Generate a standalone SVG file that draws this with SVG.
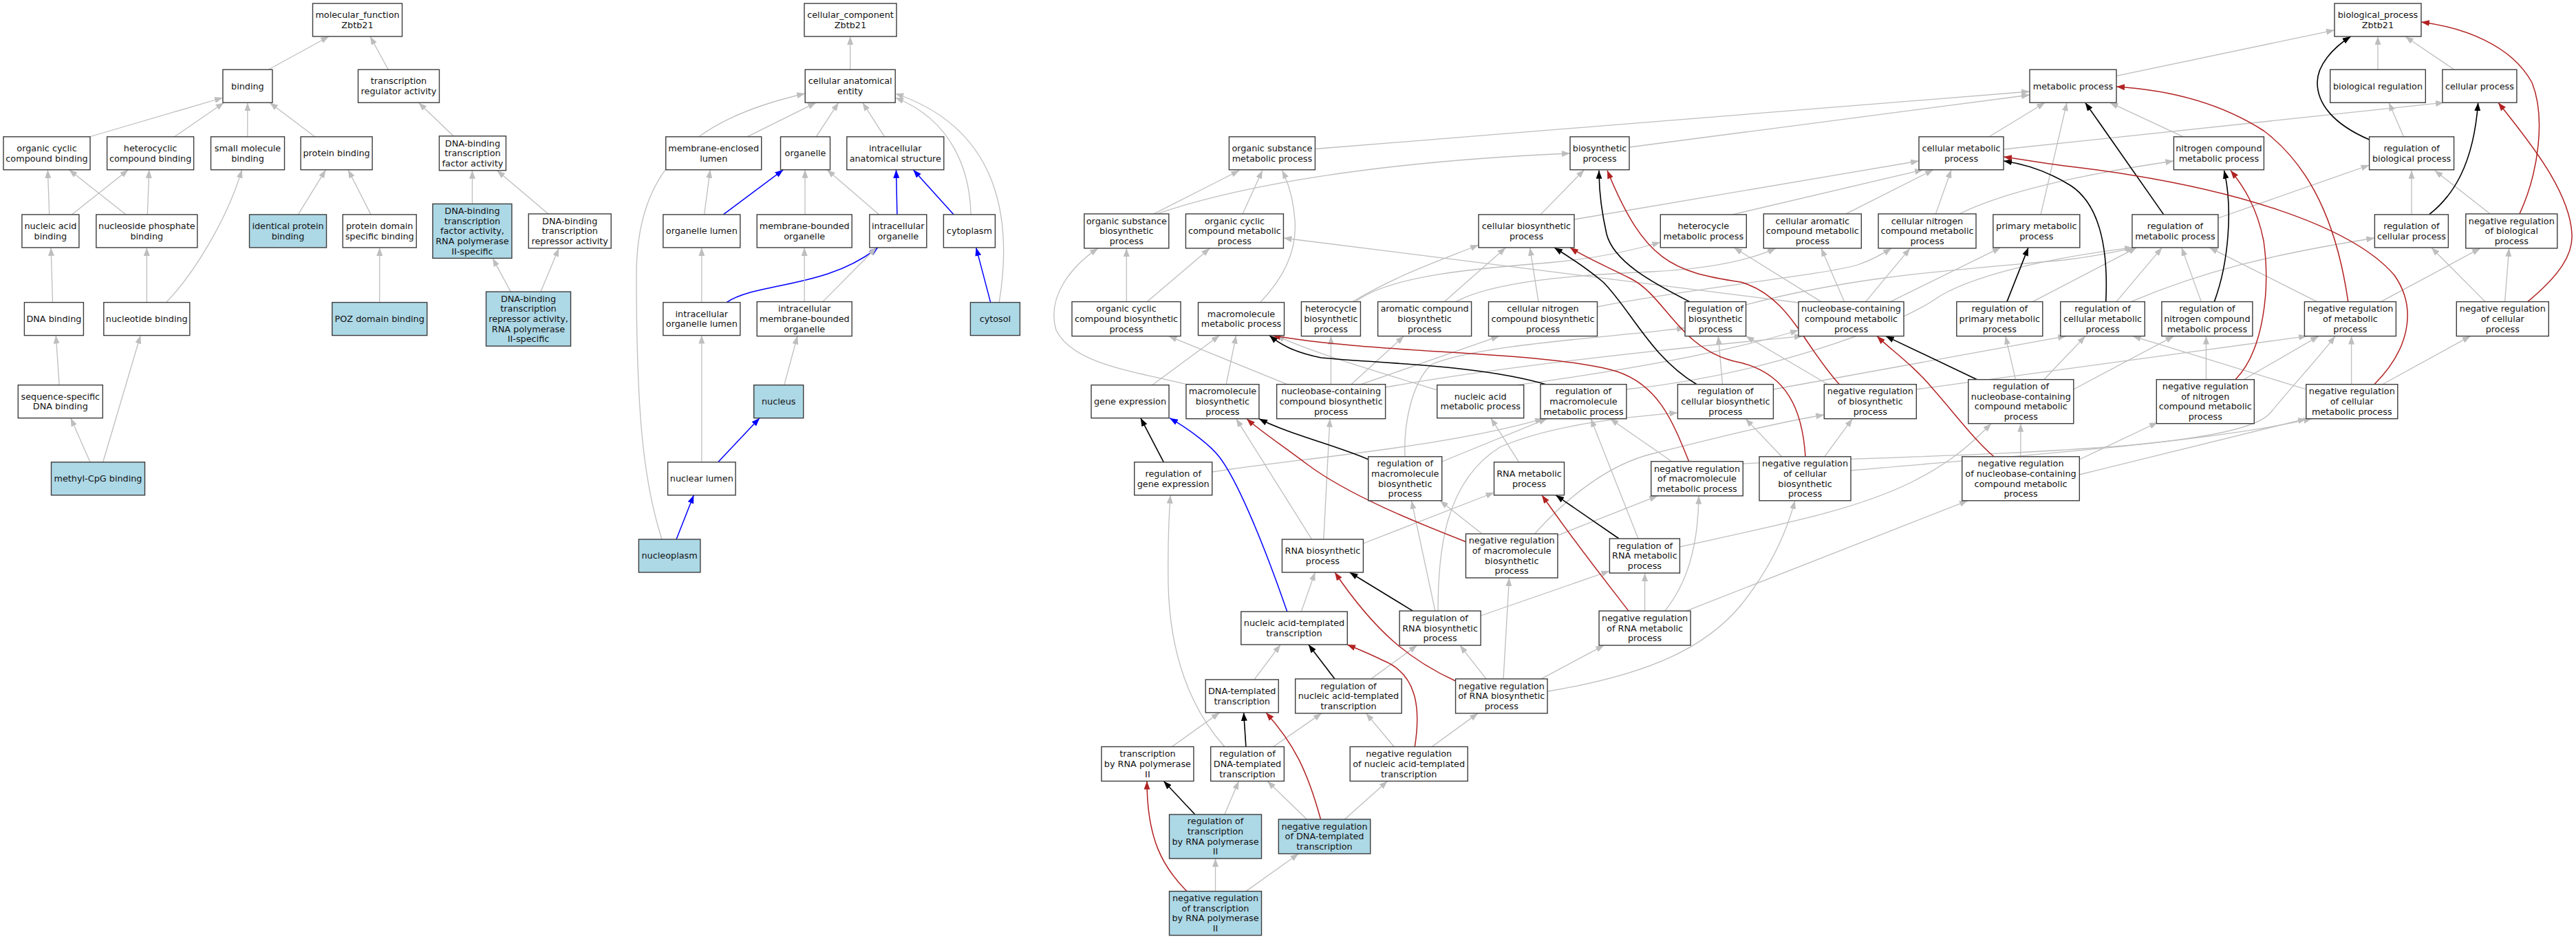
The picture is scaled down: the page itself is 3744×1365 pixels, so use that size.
<svg xmlns="http://www.w3.org/2000/svg" width="3744" height="1365" viewBox="0 0 3744 1365">
<defs>
<style>
.n rect{fill:#ffffff;stroke:#3c3c3c;stroke-width:1.4}
.h rect{fill:#add8e6}
.t{font-family:'DejaVu Sans','Liberation Sans',sans-serif;font-size:12.8px;text-anchor:middle;fill:#111111}
.g{fill:none;stroke:#bebebe;stroke-width:1.3;marker-end:url(#ag)}
.k{fill:none;stroke:#000000;stroke-width:1.6;marker-end:url(#ak)}
.r{fill:none;stroke:#b22222;stroke-width:1.5;marker-end:url(#ar)}
.b{fill:none;stroke:#0000ff;stroke-width:1.5;marker-end:url(#ab)}
</style>
<marker id="ag" markerUnits="userSpaceOnUse" markerWidth="12" markerHeight="9" viewBox="0 0 12 9" refX="12" refY="4.5" orient="auto"><path d="M0,0 L12,4.5 L0,9 z" fill="#bebebe"/></marker>
<marker id="ak" markerUnits="userSpaceOnUse" markerWidth="12" markerHeight="9" viewBox="0 0 12 9" refX="12" refY="4.5" orient="auto"><path d="M0,0 L12,4.5 L0,9 z" fill="#000000"/></marker>
<marker id="ar" markerUnits="userSpaceOnUse" markerWidth="12" markerHeight="9" viewBox="0 0 12 9" refX="12" refY="4.5" orient="auto"><path d="M0,0 L12,4.5 L0,9 z" fill="#b22222"/></marker>
<marker id="ab" markerUnits="userSpaceOnUse" markerWidth="12" markerHeight="9" viewBox="0 0 12 9" refX="12" refY="4.5" orient="auto"><path d="M0,0 L12,4.5 L0,9 z" fill="#0000ff"/></marker>
</defs>
<rect x="0" y="0" width="3744" height="1365" fill="#ffffff"/>
<g id="edges">
<!-- molecular function -->
<path class="g" d="M390,101.2 L478,53"/>
<path class="g" d="M564.4,101.2 L538,53"/>
<path class="g" d="M128,199.5 L323.9,142"/>
<path class="g" d="M253.5,198.8 L325.5,149.2"/>
<path class="g" d="M359.8,198.8 L359.8,149.2"/>
<path class="g" d="M457.7,198.8 L392,149.2"/>
<path class="g" d="M659.1,197.8 L608.4,149.2"/>
<path class="g" d="M71.7,311.9 L69.4,246.8"/>
<path class="g" d="M104.3,311.9 L186.5,246.8"/>
<path class="g" d="M183.2,311.9 L100.4,246.8"/>
<path class="g" d="M214.3,311.9 L216.7,246.8"/>
<path class="g" d="M433.3,311.9 L473.5,246.8"/>
<path class="g" d="M539,311.9 L506,246.8"/>
<path class="g" d="M686.4,296.4 L686.4,247.8"/>
<path class="g" d="M796.9,310.9 L722.3,247.8"/>
<path class="g" d="M742.3,424.1 L716,375.4"/>
<path class="g" d="M785.9,424.1 L812.2,360.9"/>
<path class="g" d="M241.5,439.6 C280,400 330,320 351.6,246.8"/>
<path class="g" d="M76.5,439.6 L74.1,359.9"/>
<path class="g" d="M213.3,439.6 L213.3,359.9"/>
<path class="g" d="M551.7,439.6 L551.7,359.9"/>
<path class="g" d="M86.1,559.7 L81.3,487.6"/>
<path class="g" d="M131,671.8 L102.8,607.7"/>
<path class="g" d="M149.7,671.8 L204.2,487.6"/>
<!-- cellular component -->
<path class="g" d="M1235.7,101.2 L1235.7,53"/>
<path class="g" d="M1085.8,198.8 L1186.2,149.2"/>
<path class="g" d="M1186.2,198.8 L1218.7,149.2"/>
<path class="g" d="M1285.7,198.8 L1253.7,149.2"/>
<path class="g" d="M1411,311.9 C1410,250 1385,175 1301.2,142"/>
<path class="g" d="M1452.2,439.6 C1470,330 1460,190 1301.2,136"/>
<path class="g" d="M962,784 C935,700 925,600 925,400 C925,250 1000,175 1170.2,136"/>
<path class="g" d="M1023.6,311.9 L1032.2,246.8"/>
<path class="b" d="M1051.3,311.9 L1138.4,246.8"/>
<path class="g" d="M1170,311.9 L1170,246.8"/>
<path class="g" d="M1277.6,311.9 L1202,246.8"/>
<path class="b" d="M1303.9,311.9 L1302.5,246.8"/>
<path class="b" d="M1386.2,311.9 L1327.3,246.8"/>
<path class="g" d="M1019.8,439.6 L1019.8,359.9"/>
<path class="b" d="M1056,439.6 C1100,410 1200,420 1276,359.9"/>
<path class="g" d="M1169.2,438.6 L1169.2,359.9"/>
<path class="g" d="M1195.8,438.6 L1273.8,359.9"/>
<path class="b" d="M1439.7,439.6 L1418.7,359.9"/>
<path class="g" d="M1139.8,559.7 L1159,488.6"/>
<path class="g" d="M1019.8,671.8 L1019.8,487.6"/>
<path class="b" d="M1043.7,671.8 L1104,607.7"/>
<path class="b" d="M983,784 L1008.3,719.8"/>
<!-- biological process: gray -->
<path class="g" d="M3456,101.2 L3456,53"/>
<path class="g" d="M3567,101.2 L3495.8,53"/>
<path class="g" d="M3075.9,110.3 L3393,43.8"/>
<path class="g" d="M3493.5,198.8 L3472.1,149.2"/>
<path class="g" d="M3505,311.9 L3505,247.8"/>
<path class="g" d="M3619.2,310.9 L3538.6,247.8"/>
<path class="g" d="M3612.1,438.6 L3533.8,359.9"/>
<path class="g" d="M3640.6,438.6 L3646.7,360.9"/>
<path class="g" d="M3460.3,438.6 L3605,360.9"/>
<path class="g" d="M3367.7,438.6 L3211.2,359.9"/>
<path class="g" d="M3173.2,198.8 L3066.4,149.2"/>
<path class="g" d="M3224,317 L3443.6,240"/>
<path class="g" d="M3199.3,438.6 L3170.8,359.9"/>
<path class="g" d="M3075.9,438.6 L3142.3,359.9"/>
<path class="g" d="M3097.3,438.6 C3200,395 3300,370 3451.4,346"/>
<path class="g" d="M3417.6,558.7 L3417.6,488.6"/>
<path class="g" d="M3351.8,566 L3099.6,488.6"/>
<path class="g" d="M3462.6,558.7 L3590.7,488.6"/>
<path class="g" d="M3206.4,551.7 L3206.4,488.6"/>
<path class="g" d="M3261,551.7 L3370.1,488.6"/>
<path class="g" d="M2954.2,438.6 L3105.6,359.9"/>
<path class="g" d="M2970.8,551.7 L3030.9,488.6"/>
<path class="g" d="M2929.4,551.7 L2914.8,488.6"/>
<path class="g" d="M3013.8,566 L3159.5,488.6"/>
<path class="g" d="M2936.8,663.8 L2936.8,615.7"/>
<path class="g" d="M3022.3,668 L3136,614"/>
<path class="g" d="M3022.3,690 L3352,608.7"/>
<path class="g" d="M2690,684 C2900,665 3200,645 3360,608.7"/>
<path class="g" d="M2533.2,674 C2800,660 3250,660 3300,600 C3330,563 3370,520 3394,488.6"/>
<path class="g" d="M2785.2,566 L3353,488.6"/>
<path class="g" d="M2363.8,566 C2550,547 2750,480 2820,430 C2880,395 3000,372 3100,359.9"/>
<path class="g" d="M2537.5,443 C2700,400 2850,392 3000,378 C3050,372 3080,365 3102,359.9"/>
<path class="g" d="M2577.3,566 L3003,488.6"/>
<path class="g" d="M1761.6,686 C1900,665 2100,650 2243,608.7"/>
<path class="g" d="M2095.9,671 L2248.5,608.7"/>
<path class="g" d="M2042,663.8 C2040,620 2050,560 2080,530 C2150,500 2350,490 2449,476.7"/>
<path class="g" d="M1674.6,559.7 L1772.6,487.6"/>
<path class="g" d="M1782.2,558.7 L1796.6,487.6"/>
<path class="g" d="M1724.8,558.7 C1650,540 1560,530 1535,480 C1520,430 1560,385 1596,360.9"/>
<path class="g" d="M2088.8,567 C2000,540 1900,510 1855,487.6"/>
<path class="g" d="M2205,559.7 C2350,540 2500,515 2614,480"/>
<path class="g" d="M2013.7,563 C2200,530 2450,505 2620,488.6"/>
<path class="g" d="M1870.7,558.7 L1698.5,488.6"/>
<path class="g" d="M1934.4,558.7 L1934.4,488.6"/>
<path class="g" d="M1964,558.7 L2040.5,488.6"/>
<path class="g" d="M1978.3,558.7 L2179.2,488.6"/>
<path class="g" d="M1637.3,438.6 L1637.3,360.9"/>
<path class="g" d="M1667.4,438.6 L1758.3,360.9"/>
<path class="g" d="M1677,310.9 L1801.3,247.8"/>
<path class="g" d="M1681.8,310.9 C1800,270 2000,235 2282,223"/>
<path class="g" d="M1806.1,310.9 L1834.8,247.8"/>
<path class="g" d="M1831.5,439.6 C1870,400 1885,360 1882,320 C1880,290 1872,265 1863.5,247.8"/>
<path class="g" d="M1911.3,216.5 L2950,133"/>
<path class="g" d="M2368,214 L2950,138"/>
<path class="g" d="M2891,198.8 L2972.2,149.2"/>
<path class="g" d="M2966,311.9 L3004,149.2"/>
<path class="g" d="M2912,217 L3552,149.2"/>
<path class="g" d="M2239,311.9 L2302.6,246.8"/>
<path class="g" d="M2287.8,319 L2789,234"/>
<path class="g" d="M2517.9,311.9 L2795,246.8"/>
<path class="g" d="M2682.9,310.9 L2810,246.8"/>
<path class="g" d="M2813.4,310.9 L2836,246.8"/>
<path class="g" d="M2848,310.9 C2920,275 3050,250 3159.4,234"/>
<path class="g" d="M2647,438.6 L2520.2,359.9"/>
<path class="g" d="M2680.5,438.6 L2647,360.9"/>
<path class="g" d="M2711.6,438.6 L2776.1,360.9"/>
<path class="g" d="M2747.4,438.6 L2907.7,359.9"/>
<path class="g" d="M2614,440 L1865.4,346"/>
<path class="g" d="M1966,438.6 C2030,400 2090,380 2149,356"/>
<path class="g" d="M1970,438.6 C2020,400 2150,390 2250,382 C2330,375 2380,362 2413.3,352"/>
<path class="g" d="M2099.3,438.6 L2188.4,359.9"/>
<path class="g" d="M2115.8,438.6 C2170,410 2280,400 2400,395 C2500,390 2550,375 2581,360.9"/>
<path class="g" d="M2236,438.6 L2223.6,359.9"/>
<path class="g" d="M2321.5,446 C2450,420 2650,400 2700,385 C2720,378 2735,370 2749,360.9"/>
<path class="g" d="M1891.3,889.1 L1911.3,832"/>
<path class="g" d="M1906.6,784 L1796.6,608.7"/>
<path class="g" d="M1923.8,784 L1932.9,608.7"/>
<path class="g" d="M1981.4,790 L2171.5,716"/>
<path class="g" d="M2207.7,671.8 L2166.8,607.7"/>
<path class="g" d="M2381,783 L2312.2,608.7"/>
<path class="g" d="M2441.3,795 C2600,760 2700,740 2780,700 C2840,670 2870,640 2894,615.7"/>
<path class="g" d="M2152.2,895 L2339.4,830"/>
<path class="g" d="M2085.9,888.1 L2051.5,727.8"/>
<path class="g" d="M2090,888.1 C2090,800 2100,700 2180,650 C2260,615 2380,605 2438.4,600"/>
<path class="g" d="M1992.7,986.9 L2059.6,938.1"/>
<path class="g" d="M2026.1,1085.5 L1985.5,1036.9"/>
<path class="g" d="M2081.2,1085.5 L2148.1,1036.9"/>
<path class="g" d="M1822.9,987.9 L1861.1,937.1"/>
<path class="g" d="M1850.6,1085.5 L1920.9,1036.9"/>
<path class="g" d="M1779.8,1085.5 C1730,1030 1700,950 1698,850 C1697,790 1699,750 1701,719.8"/>
<path class="g" d="M1703.3,1085.5 L1772.6,1035.9"/>
<path class="g" d="M1779.8,1184 L1800.4,1135.5"/>
<path class="g" d="M1899.4,1191 L1842,1135.5"/>
<path class="g" d="M1954.4,1191 L2016.6,1135.5"/>
<path class="g" d="M1766.5,1295.6 L1766.5,1248"/>
<path class="g" d="M1810.9,1295.6 L1887.4,1241"/>
<path class="g" d="M2160,986.9 L2121.8,938.1"/>
<path class="g" d="M2185,986.9 L2193.5,840"/>
<path class="g" d="M2240,986.9 L2331.3,938.1"/>
<path class="g" d="M2249.3,1005 C2400,980 2480,940 2530,880 C2570,830 2595,780 2608.7,727.8"/>
<path class="g" d="M2390.6,888.1 L2390.6,833"/>
<path class="g" d="M2419.8,888.1 C2450,850 2468,800 2469,720.8"/>
<path class="g" d="M2450.9,888.1 L2860,727.8"/>
<path class="g" d="M2154,776 L2092.9,727.8"/>
<path class="g" d="M2263.8,778.3 L2409.2,720.8"/>
<path class="g" d="M2230.6,776 C2280,720 2340,675 2400,660 C2500,635 2580,615 2651.3,603"/>
<path class="g" d="M2429.6,670.8 L2340.3,608.7"/>
<path class="g" d="M2651.8,663.8 L2692.4,608.7"/>
<path class="g" d="M2589.6,663.8 L2537,608.7"/>
<path class="g" d="M2656.6,558.7 L2537.5,488.6"/>
<path class="g" d="M2503.5,558.7 L2497.3,488.6"/>
<!-- biological process: regulates (black) -->
<path class="k" d="M3443.6,203 C3390,180 3368,150 3368,120 C3368,95 3390,70 3416.6,53"/>
<path class="k" d="M3530.5,311.9 C3565,285 3595,240 3601.7,149.2"/>
<path class="k" d="M3144.7,311.9 L3030.8,149.2"/>
<path class="k" d="M3218.3,438.6 C3240,380 3245,300 3232.5,247.8"/>
<path class="k" d="M3060.7,438.6 C3064,370 3055,300 3010,270 C2975,248 2940,238 2912,234"/>
<path class="k" d="M2916.9,438.6 L2948,359.9"/>
<path class="k" d="M2873.4,551.7 L2740.7,488.6"/>
<path class="k" d="M2455.7,438.6 C2400,410 2345,380 2335,340 C2326,300 2324,270 2324,247.8"/>
<path class="k" d="M2466,558.7 C2400,520 2370,450 2330,410 C2300,385 2275,370 2259,359.9"/>
<path class="k" d="M2248.5,559.3 C2150,530 2000,528 1920,520 C1880,512 1860,500 1845,487.6"/>
<path class="k" d="M1989,668 C1950,650 1870,630 1830,608.7"/>
<path class="k" d="M1691.3,671.8 L1657.8,607.7"/>
<path class="k" d="M2353,783 L2261.2,719.8"/>
<path class="k" d="M2053.4,888.1 L1961.6,832"/>
<path class="k" d="M1940,986.9 L1901.8,937.1"/>
<path class="k" d="M1810.9,1085.5 L1807.6,1035.9"/>
<path class="k" d="M1736.8,1184 L1691.3,1135.5"/>
<!-- biological process: negatively regulates (red) -->
<path class="r" d="M3662,310.9 C3690,250 3700,170 3680,120 C3650,65 3580,40 3519,32"/>
<path class="r" d="M3673.8,438.6 C3720,400 3740,370 3738,340 C3735,280 3680,210 3631,149.2"/>
<path class="r" d="M3412.8,438.6 C3400,350 3370,250 3290,190 C3220,145 3140,130 3076,126"/>
<path class="r" d="M3249,551.7 C3290,510 3300,420 3290,350 C3280,300 3260,270 3242,247.8"/>
<path class="r" d="M3450.8,558.7 C3500,510 3515,450 3480,400 C3420,330 3250,270 3000,241 C2960,236 2935,231 2912,228"/>
<path class="r" d="M2898,663.8 C2870,640 2840,600 2810,566 C2780,530 2750,510 2728,488.6"/>
<path class="r" d="M2673.3,558.7 C2620,500 2600,430 2530,410 C2430,395 2390,380 2336,247.8"/>
<path class="r" d="M2624,663.8 C2620,600 2600,540 2520,525 C2440,505 2420,430 2370,405 C2330,385 2300,372 2282,359.9"/>
<path class="r" d="M2454.7,670.8 C2430,610 2410,560 2350,540 C2250,510 2000,515 1849,487.6"/>
<path class="r" d="M2131,787.7 C2060,760 1960,720 1900,675 C1860,645 1830,625 1812,608.7"/>
<path class="r" d="M2367,888.1 C2330,840 2290,790 2241,719.8"/>
<path class="r" d="M2115.6,990 C2050,960 2000,920 1940,832"/>
<path class="r" d="M2056.3,1085.5 C2065,1030 2060,980 2010,960 C1990,950 1975,944 1958,937.1"/>
<path class="r" d="M1919.5,1191 C1900,1120 1880,1080 1840,1035.9"/>
<path class="r" d="M1724.8,1295.6 C1690,1260 1667,1220 1667,1135.5"/>
<!-- part_of (blue) -->
<path class="b" d="M1870.7,889.1 C1840,800 1800,700 1772,664 C1760,648 1730,625 1700,607.7"/>
</g>
<!-- molecular function nodes -->
<g id="mf_root" class="n"><rect x="454.5" y="5" width="130" height="48"/><text class="t"><tspan x="519.5" y="26.05">molecular_function</tspan><tspan x="519.5" y="40.75">Zbtb21</tspan></text></g>
<g id="mf_binding" class="n"><rect x="323.9" y="101.2" width="72" height="48"/><text class="t"><tspan x="359.9" y="129.6">binding</tspan></text></g>
<g id="mf_tra" class="n"><rect x="520.5" y="101.2" width="118" height="48"/><text class="t"><tspan x="579.5" y="122.25">transcription</tspan><tspan x="579.5" y="136.95">regulator activity</tspan></text></g>
<g id="mf_occb" class="n"><rect x="5" y="198.8" width="126" height="48"/><text class="t"><tspan x="68" y="219.85">organic cyclic</tspan><tspan x="68" y="234.55">compound binding</tspan></text></g>
<g id="mf_hcb" class="n"><rect x="155.6" y="198.8" width="126" height="48"/><text class="t"><tspan x="218.6" y="219.85">heterocyclic</tspan><tspan x="218.6" y="234.55">compound binding</tspan></text></g>
<g id="mf_smb" class="n"><rect x="306.5" y="198.8" width="107" height="48"/><text class="t"><tspan x="360" y="219.85">small molecule</tspan><tspan x="360" y="234.55">binding</tspan></text></g>
<g id="mf_pb" class="n"><rect x="437.1" y="198.8" width="104" height="48"/><text class="t"><tspan x="489.1" y="227.2">protein binding</tspan></text></g>
<g id="mf_dbtfa" class="n"><rect x="638.4" y="197.8" width="97" height="50"/><text class="t"><tspan x="686.9" y="212.5">DNA-binding</tspan><tspan x="686.9" y="227.2">transcription</tspan><tspan x="686.9" y="241.9">factor activity</tspan></text></g>
<g id="mf_nab" class="n"><rect x="31.9" y="311.9" width="83" height="48"/><text class="t"><tspan x="73.4" y="332.95">nucleic acid</tspan><tspan x="73.4" y="347.65">binding</tspan></text></g>
<g id="mf_npb" class="n"><rect x="139.8" y="311.9" width="147" height="48"/><text class="t"><tspan x="213.3" y="332.95">nucleoside phosphate</tspan><tspan x="213.3" y="347.65">binding</tspan></text></g>
<g id="mf_ipb" class="n h"><rect x="362.5" y="311.9" width="112" height="48"/><text class="t"><tspan x="418.5" y="332.95">identical protein</tspan><tspan x="418.5" y="347.65">binding</tspan></text></g>
<g id="mf_pdsb" class="n"><rect x="498.2" y="311.9" width="107" height="48"/><text class="t"><tspan x="551.7" y="332.95">protein domain</tspan><tspan x="551.7" y="347.65">specific binding</tspan></text></g>
<g id="mf_dbtfa2" class="n h"><rect x="628.9" y="296.4" width="115" height="79"/><text class="t"><tspan x="686.4" y="310.9">DNA-binding</tspan><tspan x="686.4" y="325.6">transcription</tspan><tspan x="686.4" y="340.3">factor activity,</tspan><tspan x="686.4" y="355">RNA polymerase</tspan><tspan x="686.4" y="369.7">II-specific</tspan></text></g>
<g id="mf_dbtra" class="n"><rect x="768.2" y="310.9" width="120" height="50"/><text class="t"><tspan x="828.2" y="325.6">DNA-binding</tspan><tspan x="828.2" y="340.3">transcription</tspan><tspan x="828.2" y="355">repressor activity</tspan></text></g>
<g id="mf_dnab" class="n"><rect x="35.4" y="439.6" width="86" height="48"/><text class="t"><tspan x="78.4" y="468">DNA binding</tspan></text></g>
<g id="mf_ntb" class="n"><rect x="150.8" y="439.6" width="125" height="48"/><text class="t"><tspan x="213.3" y="468">nucleotide binding</tspan></text></g>
<g id="mf_poz" class="n h"><rect x="482.7" y="439.6" width="138" height="48"/><text class="t"><tspan x="551.7" y="468">POZ domain binding</tspan></text></g>
<g id="mf_dbtra2" class="n h"><rect x="706.5" y="424.1" width="123" height="79"/><text class="t"><tspan x="768" y="438.6">DNA-binding</tspan><tspan x="768" y="453.3">transcription</tspan><tspan x="768" y="468">repressor activity,</tspan><tspan x="768" y="482.7">RNA polymerase</tspan><tspan x="768" y="497.4">II-specific</tspan></text></g>
<g id="mf_ssdb" class="n"><rect x="26.3" y="559.7" width="123" height="48"/><text class="t"><tspan x="87.8" y="580.75">sequence-specific</tspan><tspan x="87.8" y="595.45">DNA binding</tspan></text></g>
<g id="mf_mcpg" class="n h"><rect x="74.5" y="671.8" width="136" height="48"/><text class="t"><tspan x="142.5" y="700.2">methyl-CpG binding</tspan></text></g>
<!-- cellular component nodes -->
<g id="cc_root" class="n"><rect x="1169" y="5" width="134" height="48"/><text class="t"><tspan x="1236" y="26.05">cellular_component</tspan><tspan x="1236" y="40.75">Zbtb21</tspan></text></g>
<g id="cc_cae" class="n"><rect x="1170.2" y="101.2" width="131" height="48"/><text class="t"><tspan x="1235.7" y="122.25">cellular anatomical</tspan><tspan x="1235.7" y="136.95">entity</tspan></text></g>
<g id="cc_mel" class="n"><rect x="967.7" y="198.8" width="139" height="48"/><text class="t"><tspan x="1037.2" y="219.85">membrane-enclosed</tspan><tspan x="1037.2" y="234.55">lumen</tspan></text></g>
<g id="cc_org" class="n"><rect x="1134.5" y="198.8" width="72" height="48"/><text class="t"><tspan x="1170.5" y="227.2">organelle</tspan></text></g>
<g id="cc_ias" class="n"><rect x="1230.8" y="198.8" width="141" height="48"/><text class="t"><tspan x="1301.3" y="219.85">intracellular</tspan><tspan x="1301.3" y="234.55">anatomical structure</tspan></text></g>
<g id="cc_orgl" class="n"><rect x="963.8" y="311.9" width="112" height="48"/><text class="t"><tspan x="1019.8" y="340.3">organelle lumen</tspan></text></g>
<g id="cc_mbo" class="n"><rect x="1100.2" y="311.9" width="138" height="48"/><text class="t"><tspan x="1169.2" y="332.95">membrane-bounded</tspan><tspan x="1169.2" y="347.65">organelle</tspan></text></g>
<g id="cc_io" class="n"><rect x="1263.8" y="311.9" width="83" height="48"/><text class="t"><tspan x="1305.3" y="332.95">intracellular</tspan><tspan x="1305.3" y="347.65">organelle</tspan></text></g>
<g id="cc_cyto" class="n"><rect x="1371.4" y="311.9" width="75" height="48"/><text class="t"><tspan x="1408.9" y="340.3">cytoplasm</tspan></text></g>
<g id="cc_iol" class="n"><rect x="963.8" y="439.6" width="112" height="48"/><text class="t"><tspan x="1019.8" y="460.65">intracellular</tspan><tspan x="1019.8" y="475.35">organelle lumen</tspan></text></g>
<g id="cc_imbo" class="n"><rect x="1100.2" y="438.6" width="138" height="50"/><text class="t"><tspan x="1169.2" y="453.3">intracellular</tspan><tspan x="1169.2" y="468">membrane-bounded</tspan><tspan x="1169.2" y="482.7">organelle</tspan></text></g>
<g id="cc_cytosol" class="n h"><rect x="1410.4" y="439.6" width="72" height="48"/><text class="t"><tspan x="1446.4" y="468">cytosol</tspan></text></g>
<g id="cc_nucleus" class="n h"><rect x="1095.7" y="559.7" width="72" height="48"/><text class="t"><tspan x="1131.7" y="588.1">nucleus</tspan></text></g>
<g id="cc_nl" class="n"><rect x="970.55" y="671.8" width="98.5" height="48"/><text class="t"><tspan x="1019.8" y="700.2">nuclear lumen</tspan></text></g>
<g id="cc_np" class="n h"><rect x="928.35" y="784" width="89.5" height="48"/><text class="t"><tspan x="973.1" y="812.4">nucleoplasm</tspan></text></g>
<!-- biological process nodes -->
<g id="bp_root" class="n"><rect x="3393" y="5" width="126" height="48"/><text class="t"><tspan x="3456" y="26.05">biological_process</tspan><tspan x="3456" y="40.75">Zbtb21</tspan></text></g>
<g id="bp_mp" class="n"><rect x="2950" y="101.2" width="126" height="48"/><text class="t"><tspan x="3013" y="129.6">metabolic process</tspan></text></g>
<g id="bp_br" class="n"><rect x="3386.7" y="101.2" width="138.6" height="48"/><text class="t"><tspan x="3456" y="129.6">biological regulation</tspan></text></g>
<g id="bp_cp" class="n"><rect x="3549.9" y="101.2" width="108" height="48"/><text class="t"><tspan x="3603.9" y="129.6">cellular process</tspan></text></g>
<g id="bp_osmp" class="n"><rect x="1786.4" y="198.8" width="125" height="48"/><text class="t"><tspan x="1848.9" y="219.85">organic substance</tspan><tspan x="1848.9" y="234.55">metabolic process</tspan></text></g>
<g id="bp_bsp" class="n"><rect x="2282" y="198.8" width="86" height="48"/><text class="t"><tspan x="2325" y="219.85">biosynthetic</tspan><tspan x="2325" y="234.55">process</tspan></text></g>
<g id="bp_cmp" class="n"><rect x="2789" y="198.8" width="123" height="48"/><text class="t"><tspan x="2850.5" y="219.85">cellular metabolic</tspan><tspan x="2850.5" y="234.55">process</tspan></text></g>
<g id="bp_ncmp" class="n"><rect x="3159.4" y="198.8" width="131" height="48"/><text class="t"><tspan x="3224.9" y="219.85">nitrogen compound</tspan><tspan x="3224.9" y="234.55">metabolic process</tspan></text></g>
<g id="bp_rbp" class="n"><rect x="3443.6" y="198.8" width="123" height="48"/><text class="t"><tspan x="3505.1" y="219.85">regulation of</tspan><tspan x="3505.1" y="234.55">biological process</tspan></text></g>
<g id="bp_osbp" class="n"><rect x="1575.8" y="310.9" width="123" height="50"/><text class="t"><tspan x="1637.3" y="325.6">organic substance</tspan><tspan x="1637.3" y="340.3">biosynthetic</tspan><tspan x="1637.3" y="355">process</tspan></text></g>
<g id="bp_occmp" class="n"><rect x="1723.4" y="310.9" width="142" height="50"/><text class="t"><tspan x="1794.4" y="325.6">organic cyclic</tspan><tspan x="1794.4" y="340.3">compound metabolic</tspan><tspan x="1794.4" y="355">process</tspan></text></g>
<g id="bp_cbp" class="n"><rect x="2149" y="311.9" width="139" height="48"/><text class="t"><tspan x="2218.5" y="332.95">cellular biosynthetic</tspan><tspan x="2218.5" y="347.65">process</tspan></text></g>
<g id="bp_hmp" class="n"><rect x="2413.3" y="311.9" width="125" height="48"/><text class="t"><tspan x="2475.8" y="332.95">heterocycle</tspan><tspan x="2475.8" y="347.65">metabolic process</tspan></text></g>
<g id="bp_cacmp" class="n"><rect x="2563.3" y="310.9" width="142" height="50"/><text class="t"><tspan x="2634.3" y="325.6">cellular aromatic</tspan><tspan x="2634.3" y="340.3">compound metabolic</tspan><tspan x="2634.3" y="355">process</tspan></text></g>
<g id="bp_cncmp" class="n"><rect x="2730" y="310.9" width="142" height="50"/><text class="t"><tspan x="2801" y="325.6">cellular nitrogen</tspan><tspan x="2801" y="340.3">compound metabolic</tspan><tspan x="2801" y="355">process</tspan></text></g>
<g id="bp_pmp" class="n"><rect x="2896.8" y="311.9" width="126" height="48"/><text class="t"><tspan x="2959.8" y="332.95">primary metabolic</tspan><tspan x="2959.8" y="347.65">process</tspan></text></g>
<g id="bp_rmp" class="n"><rect x="3098.9" y="311.9" width="125" height="48"/><text class="t"><tspan x="3161.4" y="332.95">regulation of</tspan><tspan x="3161.4" y="347.65">metabolic process</tspan></text></g>
<g id="bp_rcp" class="n"><rect x="3451.4" y="311.9" width="107" height="48"/><text class="t"><tspan x="3504.9" y="332.95">regulation of</tspan><tspan x="3504.9" y="347.65">cellular process</tspan></text></g>
<g id="bp_nrbp" class="n"><rect x="3583.8" y="310.9" width="133" height="50"/><text class="t"><tspan x="3650.3" y="325.6">negative regulation</tspan><tspan x="3650.3" y="340.3">of biological</tspan><tspan x="3650.3" y="355">process</tspan></text></g>
<g id="bp_occbp" class="n"><rect x="1558" y="438.6" width="158" height="50"/><text class="t"><tspan x="1637" y="453.3">organic cyclic</tspan><tspan x="1637" y="468">compound biosynthetic</tspan><tspan x="1637" y="482.7">process</tspan></text></g>
<g id="bp_mmp" class="n"><rect x="1741.5" y="439.6" width="125" height="48"/><text class="t"><tspan x="1804" y="460.65">macromolecule</tspan><tspan x="1804" y="475.35">metabolic process</tspan></text></g>
<g id="bp_hbp" class="n"><rect x="1891.4" y="438.6" width="86" height="50"/><text class="t"><tspan x="1934.4" y="453.3">heterocycle</tspan><tspan x="1934.4" y="468">biosynthetic</tspan><tspan x="1934.4" y="482.7">process</tspan></text></g>
<g id="bp_acbp" class="n"><rect x="2002.6" y="438.6" width="136" height="50"/><text class="t"><tspan x="2070.6" y="453.3">aromatic compound</tspan><tspan x="2070.6" y="468">biosynthetic</tspan><tspan x="2070.6" y="482.7">process</tspan></text></g>
<g id="bp_cncbp" class="n"><rect x="2163.5" y="438.6" width="158" height="50"/><text class="t"><tspan x="2242.5" y="453.3">cellular nitrogen</tspan><tspan x="2242.5" y="468">compound biosynthetic</tspan><tspan x="2242.5" y="482.7">process</tspan></text></g>
<g id="bp_rbsp" class="n"><rect x="2449.05" y="438.6" width="88.5" height="50"/><text class="t"><tspan x="2493.3" y="453.3">regulation of</tspan><tspan x="2493.3" y="468">biosynthetic</tspan><tspan x="2493.3" y="482.7">process</tspan></text></g>
<g id="bp_nccmp" class="n"><rect x="2614" y="438.6" width="153" height="50"/><text class="t"><tspan x="2690.5" y="453.3">nucleobase-containing</tspan><tspan x="2690.5" y="468">compound metabolic</tspan><tspan x="2690.5" y="482.7">process</tspan></text></g>
<g id="bp_rpmp" class="n"><rect x="2843.8" y="438.6" width="125" height="50"/><text class="t"><tspan x="2906.3" y="453.3">regulation of</tspan><tspan x="2906.3" y="468">primary metabolic</tspan><tspan x="2906.3" y="482.7">process</tspan></text></g>
<g id="bp_rcmp" class="n"><rect x="2994.75" y="438.6" width="122.5" height="50"/><text class="t"><tspan x="3056" y="453.3">regulation of</tspan><tspan x="3056" y="468">cellular metabolic</tspan><tspan x="3056" y="482.7">process</tspan></text></g>
<g id="bp_rncmp" class="n"><rect x="3141.9" y="438.6" width="132" height="50"/><text class="t"><tspan x="3207.9" y="453.3">regulation of</tspan><tspan x="3207.9" y="468">nitrogen compound</tspan><tspan x="3207.9" y="482.7">metabolic process</tspan></text></g>
<g id="bp_nrmp" class="n"><rect x="3349.4" y="438.6" width="133" height="50"/><text class="t"><tspan x="3415.9" y="453.3">negative regulation</tspan><tspan x="3415.9" y="468">of metabolic</tspan><tspan x="3415.9" y="482.7">process</tspan></text></g>
<g id="bp_nrcp" class="n"><rect x="3570.3" y="438.6" width="134" height="50"/><text class="t"><tspan x="3637.3" y="453.3">negative regulation</tspan><tspan x="3637.3" y="468">of cellular</tspan><tspan x="3637.3" y="482.7">process</tspan></text></g>
<g id="bp_ge" class="n"><rect x="1586" y="559.7" width="113" height="48"/><text class="t"><tspan x="1642.5" y="588.1">gene expression</tspan></text></g>
<g id="bp_mbp" class="n"><rect x="1723.9" y="558.7" width="106" height="50"/><text class="t"><tspan x="1776.9" y="573.4">macromolecule</tspan><tspan x="1776.9" y="588.1">biosynthetic</tspan><tspan x="1776.9" y="602.8">process</tspan></text></g>
<g id="bp_nccbp" class="n"><rect x="1855.6" y="558.7" width="158" height="50"/><text class="t"><tspan x="1934.6" y="573.4">nucleobase-containing</tspan><tspan x="1934.6" y="588.1">compound biosynthetic</tspan><tspan x="1934.6" y="602.8">process</tspan></text></g>
<g id="bp_namp" class="n"><rect x="2088.7" y="559.7" width="126" height="48"/><text class="t"><tspan x="2151.7" y="580.75">nucleic acid</tspan><tspan x="2151.7" y="595.45">metabolic process</tspan></text></g>
<g id="bp_rmmp" class="n"><rect x="2238.9" y="558.7" width="125" height="50"/><text class="t"><tspan x="2301.4" y="573.4">regulation of</tspan><tspan x="2301.4" y="588.1">macromolecule</tspan><tspan x="2301.4" y="602.8">metabolic process</tspan></text></g>
<g id="bp_rcbp" class="n"><rect x="2438.4" y="558.7" width="139" height="50"/><text class="t"><tspan x="2507.9" y="573.4">regulation of</tspan><tspan x="2507.9" y="588.1">cellular biosynthetic</tspan><tspan x="2507.9" y="602.8">process</tspan></text></g>
<g id="bp_nrbsp" class="n"><rect x="2651.3" y="558.7" width="134" height="50"/><text class="t"><tspan x="2718.3" y="573.4">negative regulation</tspan><tspan x="2718.3" y="588.1">of biosynthetic</tspan><tspan x="2718.3" y="602.8">process</tspan></text></g>
<g id="bp_rnccmp" class="n"><rect x="2860.8" y="551.7" width="153" height="64"/><text class="t"><tspan x="2937.3" y="566.05">regulation of</tspan><tspan x="2937.3" y="580.75">nucleobase-containing</tspan><tspan x="2937.3" y="595.45">compound metabolic</tspan><tspan x="2937.3" y="610.15">process</tspan></text></g>
<g id="bp_nrncmp" class="n"><rect x="3134.3" y="551.7" width="142" height="64"/><text class="t"><tspan x="3205.3" y="566.05">negative regulation</tspan><tspan x="3205.3" y="580.75">of nitrogen</tspan><tspan x="3205.3" y="595.45">compound metabolic</tspan><tspan x="3205.3" y="610.15">process</tspan></text></g>
<g id="bp_nrcmp" class="n"><rect x="3351.8" y="558.7" width="133" height="50"/><text class="t"><tspan x="3418.3" y="573.4">negative regulation</tspan><tspan x="3418.3" y="588.1">of cellular</tspan><tspan x="3418.3" y="602.8">metabolic process</tspan></text></g>
<g id="bp_rge" class="n"><rect x="1648.7" y="671.8" width="113" height="48"/><text class="t"><tspan x="1705.2" y="692.85">regulation of</tspan><tspan x="1705.2" y="707.55">gene expression</tspan></text></g>
<g id="bp_rmbp" class="n"><rect x="1988.7" y="663.8" width="107" height="64"/><text class="t"><tspan x="2042.2" y="678.15">regulation of</tspan><tspan x="2042.2" y="692.85">macromolecule</tspan><tspan x="2042.2" y="707.55">biosynthetic</tspan><tspan x="2042.2" y="722.25">process</tspan></text></g>
<g id="bp_rnamp" class="n"><rect x="2171.5" y="671.8" width="102" height="48"/><text class="t"><tspan x="2222.5" y="692.85">RNA metabolic</tspan><tspan x="2222.5" y="707.55">process</tspan></text></g>
<g id="bp_nrmmp" class="n"><rect x="2399.75" y="670.8" width="133.5" height="50"/><text class="t"><tspan x="2466.5" y="685.5">negative regulation</tspan><tspan x="2466.5" y="700.2">of macromolecule</tspan><tspan x="2466.5" y="714.9">metabolic process</tspan></text></g>
<g id="bp_nrcbp" class="n"><rect x="2557" y="663.8" width="133" height="64"/><text class="t"><tspan x="2623.5" y="678.15">negative regulation</tspan><tspan x="2623.5" y="692.85">of cellular</tspan><tspan x="2623.5" y="707.55">biosynthetic</tspan><tspan x="2623.5" y="722.25">process</tspan></text></g>
<g id="bp_nrnccmp" class="n"><rect x="2851.7" y="663.8" width="170.6" height="64"/><text class="t"><tspan x="2937" y="678.15">negative regulation</tspan><tspan x="2937" y="692.85">of nucleobase-containing</tspan><tspan x="2937" y="707.55">compound metabolic</tspan><tspan x="2937" y="722.25">process</tspan></text></g>
<g id="bp_rnabp" class="n"><rect x="1863.4" y="784" width="118" height="48"/><text class="t"><tspan x="1922.4" y="805.05">RNA biosynthetic</tspan><tspan x="1922.4" y="819.75">process</tspan></text></g>
<g id="bp_nrmbp" class="n"><rect x="2130.45" y="776" width="133.5" height="64"/><text class="t"><tspan x="2197.2" y="790.35">negative regulation</tspan><tspan x="2197.2" y="805.05">of macromolecule</tspan><tspan x="2197.2" y="819.75">biosynthetic</tspan><tspan x="2197.2" y="834.45">process</tspan></text></g>
<g id="bp_rrnamp" class="n"><rect x="2339.4" y="783" width="102" height="50"/><text class="t"><tspan x="2390.4" y="797.7">regulation of</tspan><tspan x="2390.4" y="812.4">RNA metabolic</tspan><tspan x="2390.4" y="827.1">process</tspan></text></g>
<g id="bp_natt" class="n"><rect x="1803.75" y="889.1" width="154.5" height="48"/><text class="t"><tspan x="1881" y="910.15">nucleic acid-templated</tspan><tspan x="1881" y="924.85">transcription</tspan></text></g>
<g id="bp_rrnabp" class="n"><rect x="2034.1" y="888.1" width="118" height="50"/><text class="t"><tspan x="2093.1" y="902.8">regulation of</tspan><tspan x="2093.1" y="917.5">RNA biosynthetic</tspan><tspan x="2093.1" y="932.2">process</tspan></text></g>
<g id="bp_nrrnamp" class="n"><rect x="2324.1" y="888.1" width="133" height="50"/><text class="t"><tspan x="2390.6" y="902.8">negative regulation</tspan><tspan x="2390.6" y="917.5">of RNA metabolic</tspan><tspan x="2390.6" y="932.2">process</tspan></text></g>
<g id="bp_dtt" class="n"><rect x="1752.2" y="987.9" width="106" height="48"/><text class="t"><tspan x="1805.2" y="1008.95">DNA-templated</tspan><tspan x="1805.2" y="1023.65">transcription</tspan></text></g>
<g id="bp_rnatt" class="n"><rect x="1882.65" y="986.9" width="154.5" height="50"/><text class="t"><tspan x="1959.9" y="1001.6">regulation of</tspan><tspan x="1959.9" y="1016.3">nucleic acid-templated</tspan><tspan x="1959.9" y="1031">transcription</tspan></text></g>
<g id="bp_nrrnabp" class="n"><rect x="2115.55" y="986.9" width="133.5" height="50"/><text class="t"><tspan x="2182.3" y="1001.6">negative regulation</tspan><tspan x="2182.3" y="1016.3">of RNA biosynthetic</tspan><tspan x="2182.3" y="1031">process</tspan></text></g>
<g id="bp_trp2" class="n"><rect x="1600.9" y="1085.5" width="134" height="50"/><text class="t"><tspan x="1667.9" y="1100.2">transcription</tspan><tspan x="1667.9" y="1114.9">by RNA polymerase</tspan><tspan x="1667.9" y="1129.6">II</tspan></text></g>
<g id="bp_rdtt" class="n"><rect x="1759.65" y="1085.5" width="106.7" height="50"/><text class="t"><tspan x="1813" y="1100.2">regulation of</tspan><tspan x="1813" y="1114.9">DNA-templated</tspan><tspan x="1813" y="1129.6">transcription</tspan></text></g>
<g id="bp_nrnatt" class="n"><rect x="1962.2" y="1085.5" width="171" height="50"/><text class="t"><tspan x="2047.7" y="1100.2">negative regulation</tspan><tspan x="2047.7" y="1114.9">of nucleic acid-templated</tspan><tspan x="2047.7" y="1129.6">transcription</tspan></text></g>
<g id="bp_rtrp2" class="n h"><rect x="1699.5" y="1184" width="134" height="64"/><text class="t"><tspan x="1766.5" y="1198.35">regulation of</tspan><tspan x="1766.5" y="1213.05">transcription</tspan><tspan x="1766.5" y="1227.75">by RNA polymerase</tspan><tspan x="1766.5" y="1242.45">II</tspan></text></g>
<g id="bp_nrdtt" class="n h"><rect x="1858.3" y="1191" width="133.4" height="50"/><text class="t"><tspan x="1925" y="1205.7">negative regulation</tspan><tspan x="1925" y="1220.4">of DNA-templated</tspan><tspan x="1925" y="1235.1">transcription</tspan></text></g>
<g id="bp_nrtrp2" class="n h"><rect x="1699.5" y="1295.6" width="134" height="64"/><text class="t"><tspan x="1766.5" y="1309.95">negative regulation</tspan><tspan x="1766.5" y="1324.65">of transcription</tspan><tspan x="1766.5" y="1339.35">by RNA polymerase</tspan><tspan x="1766.5" y="1354.05">II</tspan></text></g>
</svg>
